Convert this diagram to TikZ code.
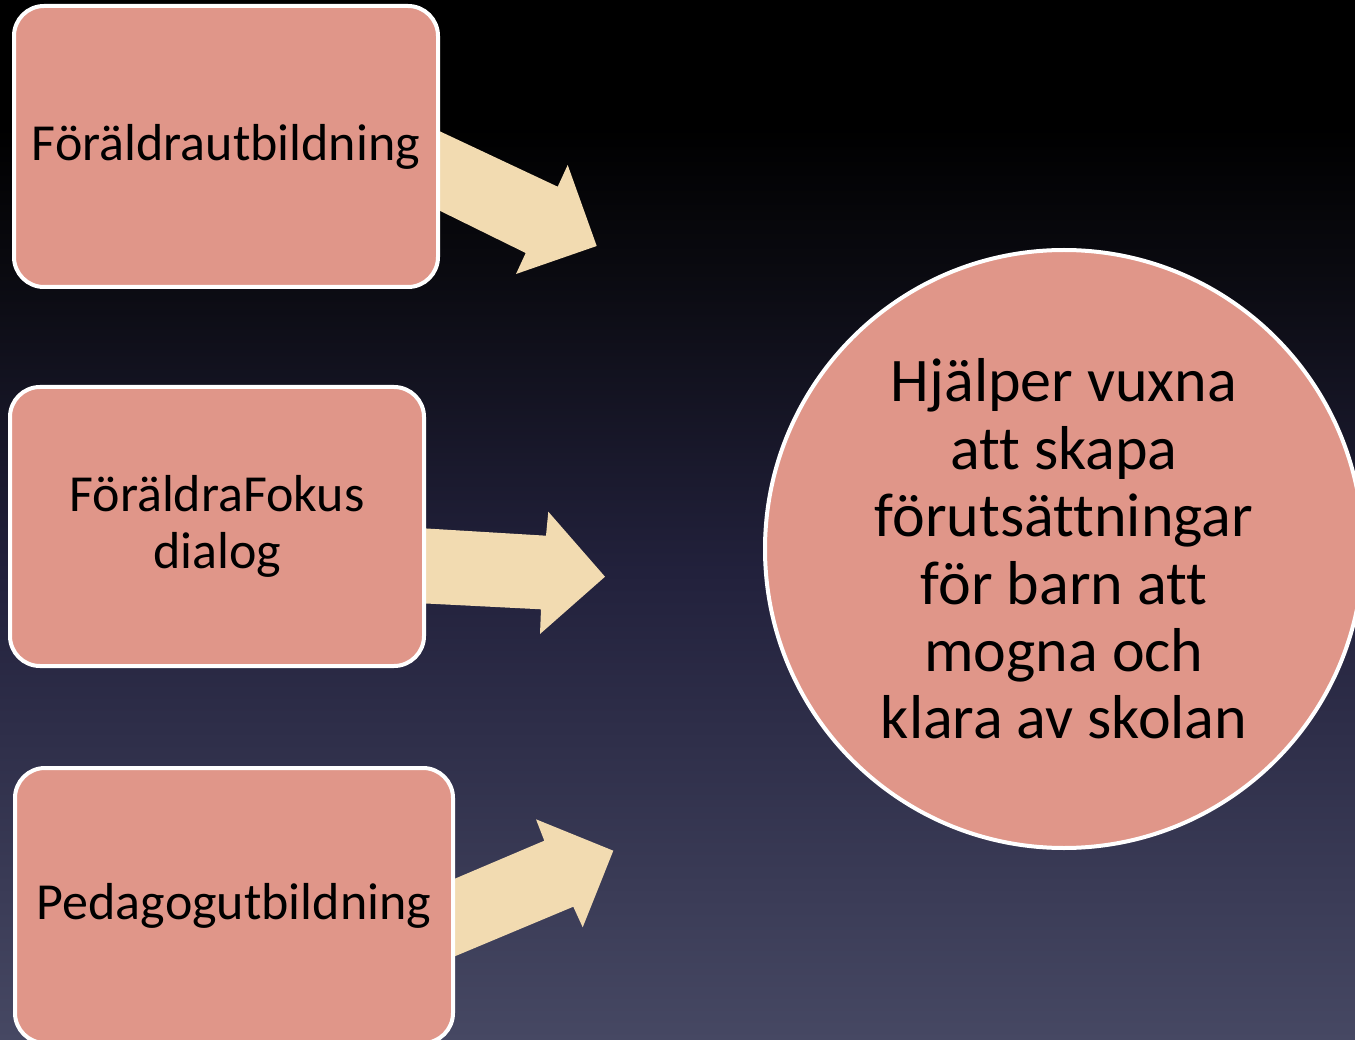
\documentclass[tikz,border=0pt]{standalone}
\usepackage{fontspec}
\setmainfont[Ligatures=NoCommon]{Carlito}
\definecolor{boxfill}{RGB}{224,150,137}
\definecolor{arrowfill}{RGB}{242,219,177}
\definecolor{bgA}{RGB}{70,72,99}
\definecolor{bgB}{RGB}{34,33,60}
\definecolor{bgC}{RGB}{10,10,16}
\pgfdeclareverticalshading{bgshade}{100bp}{color(0bp)=(bgA); color(25bp)=(bgA); color(47.5bp)=(bgB); color(62bp)=(bgC); color(69bp)=(black); color(100bp)=(black)}
\tikzset{
  boxnode/.style={draw=white, line width=4pt, fill=boxfill, rounded corners=30pt, align=center, text=black, inner sep=0pt},
  circnode/.style={draw=white, line width=4pt, fill=boxfill, circle, minimum size=598pt, align=center, text=black, inner sep=0pt},
  blockarrow/.style={fill=arrowfill, draw=none},
}
\begin{document}
\begin{tikzpicture}[x=1pt,y=-1pt]
\fill[shading=bgshade] (0,0) rectangle (1355,1040);
\useasboundingbox (0,0) rectangle (1355,1040);
% block arrows
\fill[blockarrow] (420,122) -- (557.7,186.7) -- (567.7,165) -- (596.7,246) -- (516,274) -- (525.7,253) -- (420,201) -- cycle;
\fill[blockarrow] (410,527.5) -- (546,535.7) -- (548.3,511.7) -- (605,576.7) -- (540,634) -- (541,609.3) -- (410,602.7) -- cycle;
\fill[blockarrow] (440,885) -- (544.3,840.7) -- (536,819.3) -- (613.3,850.7) -- (582.7,927.3) -- (573.3,906.7) -- (440,962.5) -- cycle;
% boxes
\node[boxnode, minimum width=424pt, minimum height=281pt, font=\fontsize{52}{60}\selectfont] (b1) at (226,146.5) {Föräldrautbildning};
\node[boxnode, minimum width=414pt, minimum height=279pt, font=\fontsize{52}{57}\selectfont] (b2) at (217,526.5) {FöräldraFokus\\dialog};
\node[boxnode, minimum width=438pt, minimum height=275pt, font=\fontsize{52}{60}\selectfont] (b3) at (234,905.5) {Pedagogutbildning};
% circle
\node[circnode, font=\fontsize{62}{67.4}\selectfont] (c) at (1064,549) {Hjälper vuxna\\att skapa\\förutsättningar\\för barn att\\mogna och\\klara av skolan};
\end{tikzpicture}
\end{document}
